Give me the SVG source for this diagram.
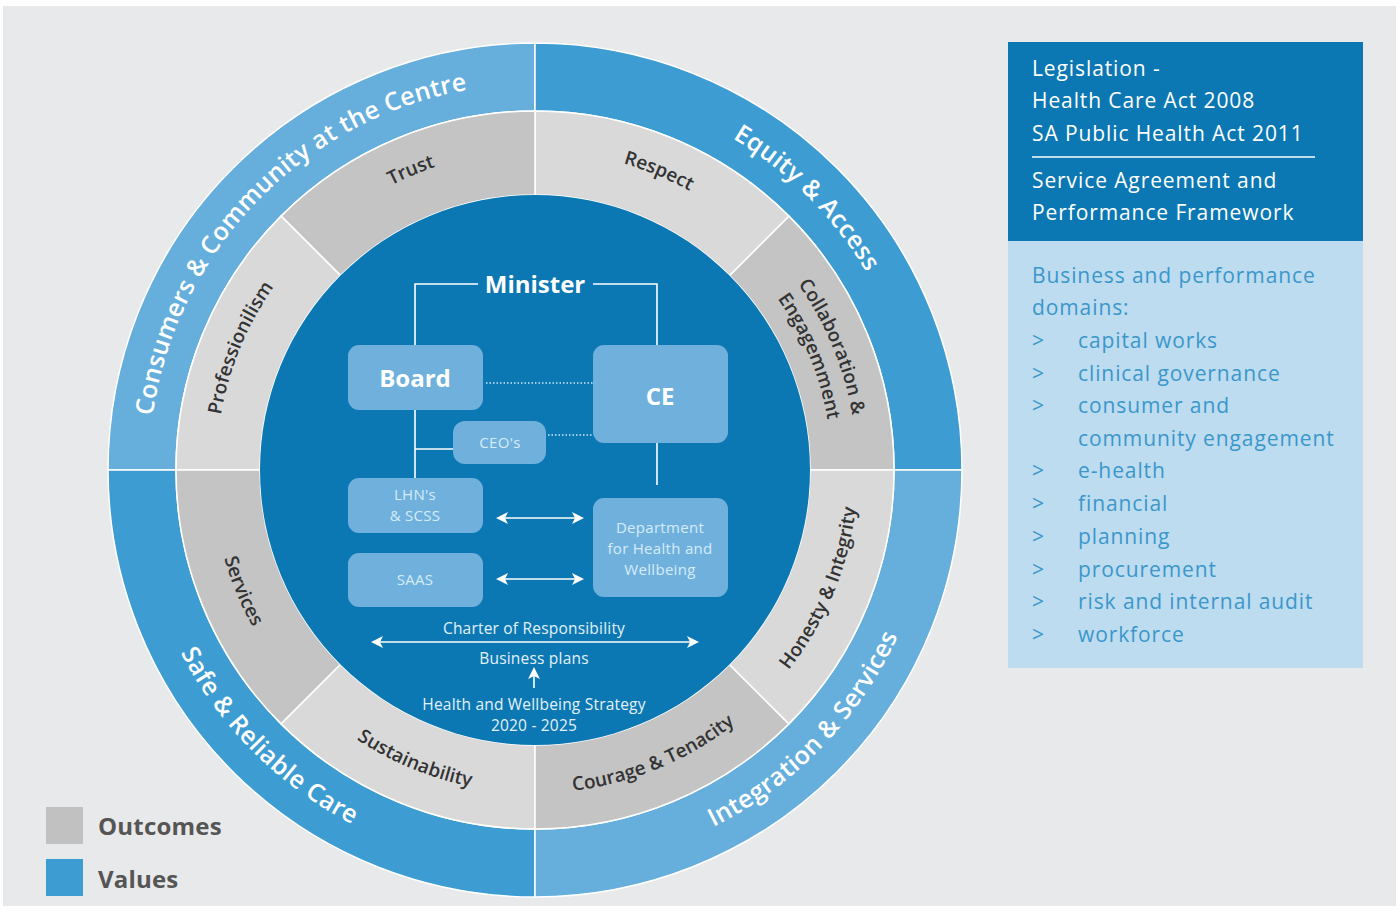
<svg xmlns="http://www.w3.org/2000/svg" width="1400" height="915" viewBox="0 0 1400 915">
<style>
.bg{fill:#e8e9eb}
.vl{fill:#66afdc;stroke:#fff;stroke-width:1.5}
.vd{fill:#3d9dd2;stroke:#fff;stroke-width:1.5}
.gd{fill:#c4c4c5;stroke:#fff;stroke-width:1.5}
.gl{fill:#d9d9da;stroke:#fff;stroke-width:1.5}
.ring{font-family:"Open Sans","Liberation Sans",sans-serif;font-size:25px;font-weight:600;fill:#fff;letter-spacing:0.3px}
.grey{font-family:"Open Sans","Liberation Sans",sans-serif;font-size:19px;font-weight:600;fill:#333}
.box{fill:#6fb1dc}
.big{font-family:"Open Sans","Liberation Sans",sans-serif;font-size:24px;font-weight:700;fill:#fff;text-anchor:middle}
.sm{font-family:"Open Sans","Liberation Sans",sans-serif;font-size:15px;fill:#d6ebf8;text-anchor:middle;letter-spacing:0.3px}
.mid{font-family:"Open Sans","Liberation Sans",sans-serif;font-size:15.5px;fill:#e3f1fa;text-anchor:middle;letter-spacing:0.2px}
.ln{stroke:#fff;stroke-width:1.6;fill:none}
.dot{stroke:#cfe6f6;stroke-width:1.5;stroke-dasharray:1.5 2;fill:none}
.pw{font-family:"Open Sans","Liberation Sans",sans-serif;font-size:21px;fill:#fff;letter-spacing:0.9px}
.pb{font-family:"Open Sans","Liberation Sans",sans-serif;font-size:21px;fill:#3a97cb;letter-spacing:0.9px}
.leg{font-family:"Open Sans","Liberation Sans",sans-serif;font-size:24px;font-weight:700;fill:#555;letter-spacing:0.2px}
</style>
<defs>
<marker id="ah" viewBox="0 0 12 12" refX="10" refY="6" markerWidth="12" markerHeight="12" markerUnits="userSpaceOnUse" orient="auto-start-reverse">
<path d="M0,0 L12,6 L0,12 L3,6 Z" fill="#fff"/>
</marker>
<path id="pConsumers" d="M243.7,723.3 A386,386 0 0 1 777.9,170.0"/>
<path id="pEquity" d="M286.9,174.3 A386,386 0 0 1 830.7,718.1"/>
<path id="pSafe" d="M229.4,213.5 A399,399 0 0 0 791.5,775.6"/>
<path id="pIntegration" d="M283.9,780.1 A399,399 0 0 0 836.1,208.2"/>
<path id="pTrust" d="M218.7,428.4 A319,319 0 0 1 729.2,216.9"/>
<path id="pRespect" d="M340.8,216.9 A319,319 0 0 1 851.3,428.4"/>
<path id="pProf" d="M281.9,664.2 A319,319 0 0 1 493.4,153.7"/>
<path id="pCollab1" d="M577.0,150.8 A322,322 0 0 1 790.5,666.0"/>
<path id="pCollab2" d="M573.8,175.6 A297,297 0 0 1 770.6,650.8"/>
<path id="pServices" d="M278.7,273.4 A323,323 0 0 0 492.8,790.2"/>
<path id="pSustain" d="M214.8,512.2 A323,323 0 0 0 731.6,726.3"/>
<path id="pCourage" d="M338.4,726.3 A323,323 0 0 0 855.2,512.2"/>
<path id="pHonesty" d="M577.2,790.2 A323,323 0 0 0 791.3,273.4"/>
</defs>

<rect class="bg" x="3" y="6" width="1393" height="900"/>

<g id="values-ring">
<path id="v-consumers" class="vl" d="M535,43 A427,427 0 0 0 108,470 L176,470 A359,359 0 0 1 535,111 Z"/>
<path id="v-equity" class="vd" d="M535,43 A427,427 0 0 1 962,470 L894,470 A359,359 0 0 0 535,111 Z"/>
<path id="v-safe" class="vd" d="M108,470 A427,427 0 0 0 535,897 L535,829 A359,359 0 0 1 176,470 Z"/>
<path id="v-integration" class="vl" d="M962,470 A427,427 0 0 1 535,897 L535,829 A359,359 0 0 0 894,470 Z"/>
<text class="ring"><textPath href="#pConsumers" startOffset="50%" text-anchor="middle">Consumers &amp; Community at the Centre</textPath></text>
<text class="ring"><textPath href="#pEquity" startOffset="50%" text-anchor="middle">Equity &amp; Access</textPath></text>
<text class="ring"><textPath href="#pSafe" startOffset="50%" text-anchor="middle">Safe &amp; Reliable Care</textPath></text>
<text class="ring"><textPath href="#pIntegration" startOffset="50%" text-anchor="middle">Integration &amp; Services</textPath></text>
</g>

<g id="outcomes-ring">
<path id="o-collab" class="gd" d="M894,470 A359,359 0 0 0 788.9,216.1 L729.5,275.5 A275,275 0 0 1 810,470 Z"/>
<path id="o-respect" class="gl" d="M788.9,216.1 A359,359 0 0 0 535,111 L535,195 A275,275 0 0 1 729.5,275.5 Z"/>
<path id="o-trust" class="gd" d="M535,111 A359,359 0 0 0 281.1,216.1 L340.5,275.5 A275,275 0 0 1 535,195 Z"/>
<path id="o-prof" class="gl" d="M281.1,216.1 A359,359 0 0 0 176,470 L260,470 A275,275 0 0 1 340.5,275.5 Z"/>
<path id="o-services" class="gd" d="M176,470 A359,359 0 0 0 281.1,723.9 L340.5,664.5 A275,275 0 0 1 260,470 Z"/>
<path id="o-sustain" class="gl" d="M281.1,723.9 A359,359 0 0 0 535,829 L535,745 A275,275 0 0 1 340.5,664.5 Z"/>
<path id="o-courage" class="gd" d="M535,829 A359,359 0 0 0 788.9,723.9 L729.5,664.5 A275,275 0 0 1 535,745 Z"/>
<path id="o-honesty" class="gl" d="M788.9,723.9 A359,359 0 0 0 894,470 L810,470 A275,275 0 0 1 729.5,664.5 Z"/>
<text class="grey"><textPath href="#pTrust" startOffset="50%" text-anchor="middle">Trust</textPath></text>
<text class="grey"><textPath href="#pRespect" startOffset="50%" text-anchor="middle">Respect</textPath></text>
<text class="grey"><textPath href="#pProf" startOffset="50%" text-anchor="middle">Professionilism</textPath></text>
<text class="grey"><textPath href="#pCollab1" startOffset="50%" text-anchor="middle">Collaboration &amp;</textPath></text>
<text class="grey"><textPath href="#pCollab2" startOffset="50%" text-anchor="middle">Engagemment</textPath></text>
<text class="grey"><textPath href="#pServices" startOffset="50%" text-anchor="middle">Services</textPath></text>
<text class="grey"><textPath href="#pSustain" startOffset="50%" text-anchor="middle">Sustainability</textPath></text>
<text class="grey"><textPath href="#pCourage" startOffset="50%" text-anchor="middle">Courage &amp; Tenacity</textPath></text>
<text class="grey"><textPath href="#pHonesty" startOffset="50%" text-anchor="middle">Honesty &amp; Integrity</textPath></text>
</g>

<circle id="core" cx="535" cy="470" r="275" fill="#0b78b3"/>

<g id="connectors">
<polyline class="ln" points="415,345 415,284 478,284"/>
<polyline class="ln" points="593,284 657,284 657,345"/>
<line class="ln" x1="415" y1="410" x2="415" y2="478"/>
<line class="ln" x1="415" y1="449" x2="453" y2="449"/>
<line class="ln" x1="657" y1="443" x2="657" y2="485"/>
<line class="dot" x1="486" y1="383" x2="593" y2="383"/>
<line class="dot" x1="548" y1="435" x2="593" y2="435"/>
<line class="ln" x1="498" y1="518" x2="582" y2="518" marker-start="url(#ah)" marker-end="url(#ah)"/>
<line class="ln" x1="498" y1="579" x2="582" y2="579" marker-start="url(#ah)" marker-end="url(#ah)"/>
<line class="ln" x1="373" y1="642" x2="697" y2="642" marker-start="url(#ah)" marker-end="url(#ah)"/>
<line class="ln" x1="534" y1="688" x2="534" y2="669" marker-end="url(#ah)"/>
</g>

<g id="minister"><text class="big" x="535" y="293">Minister</text></g>
<g id="board"><rect class="box" x="348" y="345" width="135" height="65" rx="11"/><text class="big" x="415" y="387">Board</text></g>
<g id="ce"><rect class="box" x="593" y="345" width="135" height="98" rx="11"/><text class="big" x="660" y="405">CE</text></g>
<g id="ceos"><rect class="box" x="453" y="421" width="93" height="43" rx="12"/><text class="sm" x="500" y="448">CEO's</text></g>
<g id="lhns"><rect class="box" x="348" y="478" width="135" height="55" rx="11"/><text class="sm" x="415" y="500">LHN's</text><text class="sm" x="415" y="521">&amp; SCSS</text></g>
<g id="saas"><rect class="box" x="348" y="553" width="135" height="54" rx="11"/><text class="sm" x="415" y="585">SAAS</text></g>
<g id="dept"><rect class="box" x="593" y="498" width="135" height="99" rx="11"/><text class="sm" x="660" y="533">Department</text><text class="sm" x="660" y="554">for Health and</text><text class="sm" x="660" y="575">Wellbeing</text></g>
<g id="charter"><text class="mid" x="534" y="634">Charter of Responsibility</text></g>
<g id="business-plans"><text class="mid" x="534" y="664">Business plans</text></g>
<g id="strategy"><text class="mid" x="534" y="710">Health and Wellbeing Strategy</text><text class="mid" x="534" y="731">2020 - 2025</text></g>

<g id="legislation">
<rect x="1008" y="42" width="355" height="199" fill="#0b78b3"/>
<text class="pw" x="1032" y="76">Legislation -</text>
<text class="pw" x="1032" y="108">Health Care Act 2008</text>
<text class="pw" x="1032" y="141">SA Public Health Act 2011</text>
<line x1="1032" y1="157" x2="1315" y2="157" stroke="#fff" stroke-width="1.6"/>
<text class="pw" x="1032" y="188">Service Agreement and</text>
<text class="pw" x="1032" y="220">Performance Framework</text>
</g>

<g id="domains">
<rect x="1008" y="241" width="355" height="427" fill="#bddcef"/>
<text class="pb" x="1032" y="283">Business and performance</text>
<text class="pb" x="1032" y="315">domains:</text>
<text class="pb" x="1032" y="348">&gt;</text><text class="pb" x="1078" y="348">capital works</text>
<text class="pb" x="1032" y="381">&gt;</text><text class="pb" x="1078" y="381">clinical governance</text>
<text class="pb" x="1032" y="413">&gt;</text><text class="pb" x="1078" y="413">consumer and</text>
<text class="pb" x="1078" y="446">community engagement</text>
<text class="pb" x="1032" y="478">&gt;</text><text class="pb" x="1078" y="478">e-health</text>
<text class="pb" x="1032" y="511">&gt;</text><text class="pb" x="1078" y="511">financial</text>
<text class="pb" x="1032" y="544">&gt;</text><text class="pb" x="1078" y="544">planning</text>
<text class="pb" x="1032" y="577">&gt;</text><text class="pb" x="1078" y="577">procurement</text>
<text class="pb" x="1032" y="609">&gt;</text><text class="pb" x="1078" y="609">risk and internal audit</text>
<text class="pb" x="1032" y="642">&gt;</text><text class="pb" x="1078" y="642">workforce</text>
</g>

<g id="legend">
<rect x="46" y="807" width="37" height="37" fill="#c1c1c2"/>
<text class="leg" x="98" y="835">Outcomes</text>
<rect x="46" y="859" width="37" height="37" fill="#3d9dd2"/>
<text class="leg" x="98" y="888">Values</text>
</g>
</svg>
